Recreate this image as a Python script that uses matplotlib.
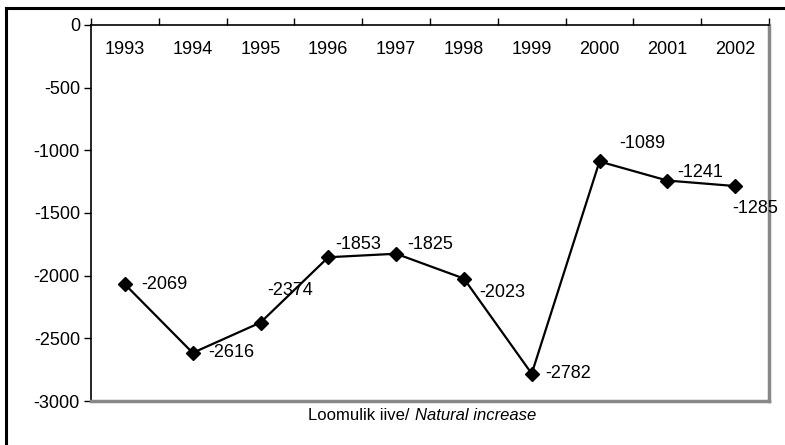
import matplotlib.pyplot as plt
import numpy as np
from matplotlib.lines import Line2D

plt.rcParams['font.family'] = ['Liberation Sans', 'DejaVu Sans']
plt.rcParams['axes.unicode_minus'] = False

# Data
years = ['1993', '1994', '1995', '1996', '1997', '1998', '1999', '2000', '2001', '2002']
values = [-2069, -2616, -2374, -1853, -1825, -2023, -2782, -1089, -1241, -1285]

# label offsets in points (dx, dy)
offsets = [(12, 0), (11, 0), (5, 23), (5, 9), (8, 7), (11, -10), (10, 0), (14, 13), (7, 6), (-2, -16)]

fig = plt.figure(figsize=(7.85, 4.45), dpi=100)
ax = fig.add_axes([91/785, 1-401/445, (769-91)/785, (401-25)/445])

x = np.arange(len(years))
ax.plot(x, values, color='black', lw=1.6, marker='D', markersize=7, zorder=3)

for xi, v, (dx, dy) in zip(x, values, offsets):
    ax.annotate(str(v), (xi, v), xytext=(dx, dy), textcoords='offset points',
                ha='left', va='center', fontsize=13)

for xi, yr in zip(x, years):
    ax.text(xi, -195, yr, ha='center', va='center', fontsize=13)

ax.set_xlim(-0.5, len(years) - 0.5)
ax.set_ylim(-3000, 0)
ax.set_yticks(np.arange(-3000, 1, 500))
ax.tick_params(axis='y', direction='out', length=5, width=1, labelsize=13, pad=3)
ax.xaxis.tick_top()
ax.set_xticks(np.arange(-0.5, len(years), 1))
ax.tick_params(axis='x', direction='out', length=5, width=1, labeltop=False, labelbottom=False)

ax.spines['left'].set_color('black')
ax.spines['left'].set_linewidth(1.2)
ax.spines['top'].set_color('black')
ax.spines['top'].set_linewidth(1.2)
ax.spines['right'].set_color('#888888')
ax.spines['right'].set_linewidth(2.5)
ax.spines['bottom'].set_color('#888888')
ax.spines['bottom'].set_linewidth(2.5)

fig.text(410/785, 1-415/445, 'Loomulik iive/', ha='right', va='center', fontsize=12)
fig.text(415/785, 1-415/445, 'Natural increase', ha='left', va='center', fontsize=12, style='italic')

# outer frame (left and top edges)
fig.add_artist(Line2D([6/785, 6/785], [0, 1-8/445], color='black', lw=2.2, transform=fig.transFigure))
fig.add_artist(Line2D([6/785, 1], [1-8/445, 1-8/445], color='black', lw=2.2, transform=fig.transFigure))

fig.savefig('out.png', dpi=100)
